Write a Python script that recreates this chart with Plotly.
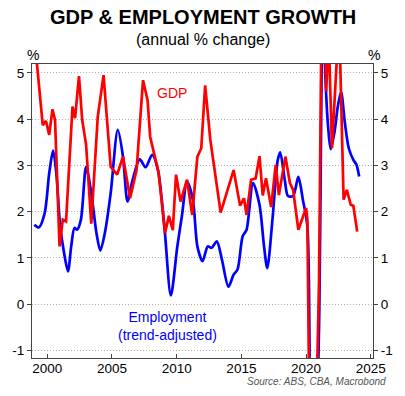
import plotly.graph_objects as go

# ---- Data ----
gdp_years = [1999.1, 1999.65, 1999.9, 2000.15, 2000.4, 2000.6, 2000.95, 2001.2, 2001.45,
             2001.95, 2002.15, 2002.45, 2002.7, 2003.0, 2003.4, 2003.9, 2004.35, 2004.9,
             2005.4, 2005.85, 2006.4, 2006.9, 2007.4, 2007.75, 2007.95, 2008.25, 2008.6,
             2009.1, 2009.4, 2009.7, 2009.95, 2010.3, 2010.8, 2011.2, 2011.6, 2011.9,
             2012.2, 2012.6, 2013.4, 2014.4, 2014.9, 2015.2, 2015.4, 2015.75, 2016.1,
             2016.4, 2016.65, 2016.9, 2017.3, 2017.65, 2017.9, 2018.4, 2018.75, 2019.0,
             2019.4, 2020.0, 2020.1, 2020.4, 2020.7, 2021.0, 2021.3, 2021.55, 2021.75,
             2022.0, 2022.55, 2022.9, 2023.15, 2023.45, 2023.65, 2023.95]
gdp_values = [5.5, 3.87, 3.96, 3.66, 4.21, 3.98, 1.25, 1.83, 1.79,
              4.27, 4.02, 4.93, 3.98, 3.45, 1.74, 4.05, 4.95, 2.97,
              2.80, 3.19, 2.29, 2.90, 4.84, 4.41, 3.62, 3.26, 2.85,
              1.54, 1.91, 1.60, 2.80, 2.22, 2.69, 1.93, 3.19, 3.37,
              4.73, 3.55, 1.98, 2.90, 2.13, 2.29, 1.93, 2.69, 2.72,
              3.20, 2.35, 2.72, 2.10, 3.01, 2.36, 3.19, 2.62, 2.47,
              1.61, 2.08, 1.83, -6.3, -3.5, 0.5, 9.5, 4.6, 5.8,
              3.37, 6.2, 2.26, 2.47, 2.15, 2.13, 1.57]

emp_years = [1999.0, 1999.35, 1999.8, 2000.15, 2000.45, 2000.7, 2001.0, 2001.3, 2001.6,
             2001.85, 2002.1, 2002.3, 2002.6, 2003.0, 2003.4, 2003.8, 2004.1, 2004.45,
             2004.9, 2005.45, 2005.85, 2006.2, 2006.6, 2007.15, 2007.6, 2008.1, 2008.55,
             2009.05, 2009.55, 2010.05, 2010.4, 2010.8, 2011.25, 2011.6, 2012.0, 2012.4,
             2012.7, 2013.1, 2013.5, 2014.0, 2014.4, 2014.7, 2015.1, 2015.4, 2015.9,
             2016.4, 2016.75, 2017.0, 2017.4, 2017.8, 2018.0, 2018.35, 2018.6, 2019.0,
             2019.4, 2019.75, 2020.1, 2020.4, 2020.75, 2021.0, 2021.3, 2021.5, 2021.7,
             2021.9, 2022.2, 2022.45, 2022.7, 2023.0, 2023.3, 2023.65, 2023.9, 2024.1]
emp_values = [1.72, 1.66, 1.97, 2.83, 3.32, 2.83, 1.68, 1.11, 0.71,
              1.25, 1.65, 1.61, 1.83, 2.97, 2.40, 1.54, 1.16, 1.54,
              2.40, 3.77, 3.19, 2.22, 2.69, 3.13, 2.96, 3.23, 2.90,
              1.68, 0.19, 1.25, 1.90, 2.65, 2.26, 1.25, 0.93, 1.25,
              1.22, 1.36, 0.96, 0.38, 0.64, 0.75, 1.47, 1.61, 2.62,
              2.15, 1.25, 0.78, 1.83, 3.10, 3.28, 2.69, 2.34, 2.34,
              2.75, 2.26, 1.68, -4.2, -3.0, -0.5, 6.5, 4.84, 3.84,
              3.35, 3.73, 4.27, 4.59, 3.91, 3.37, 3.12, 3.01, 2.76]

x_ticks = [2000, 2005, 2010, 2015, 2020, 2025]
x_ticklabels = ["2000", "2005", "2010", "2015", "2020", "2025"]
y_ticks = [-1, 0, 1, 2, 3, 4, 5]
y_ticklabels = ["-1", "0", "1", "2", "3", "4", "5"]

FONT = "Liberation Sans, Arial, sans-serif"
AXC = "#444444"
X_RANGE = [1998.82, 2025.17]
Y_RANGE = [-1.16, 5.19]

fig = go.Figure()
fig.add_trace(go.Scatter(x=emp_years, y=emp_values, mode="lines",
                         line=dict(color="#0000FF", width=2.7, shape="spline", smoothing=0.8),
                         showlegend=False, hoverinfo="skip"))
fig.add_trace(go.Scatter(x=gdp_years, y=gdp_values, mode="lines",
                         line=dict(color="#FF0000", width=2.7),
                         showlegend=False, hoverinfo="skip"))
# invisible trace to drive the right-hand axis
fig.add_trace(go.Scatter(x=[X_RANGE[0]], y=[Y_RANGE[0]], yaxis="y2", mode="markers",
                         marker=dict(opacity=0), showlegend=False, hoverinfo="skip"))

fig.update_layout(
    width=405, height=396,
    margin=dict(l=26, r=28, t=64, b=38),
    paper_bgcolor="white", plot_bgcolor="white",
    font=dict(family=FONT, color="black"),
    xaxis=dict(range=X_RANGE, tickmode="array", tickvals=x_ticks, ticktext=x_ticklabels,
               ticks="inside", ticklen=4, tickcolor=AXC, showgrid=False, zeroline=False,
               showline=True, linecolor=AXC, linewidth=1, mirror=True,
               ticklabelstandoff=-2,
               tickfont=dict(size=13.5, family=FONT, color="black")),
    yaxis=dict(range=Y_RANGE, tickmode="array", tickvals=y_ticks, ticktext=y_ticklabels,
               ticks="outside", ticklen=4, tickcolor=AXC, showgrid=True,
               gridcolor="#b0b0b0", griddash="1px,2px", gridwidth=1, zeroline=False,
               showline=True, linecolor=AXC, linewidth=1, mirror=True,
               tickfont=dict(size=13.5, family=FONT, color="black")),
    yaxis2=dict(range=Y_RANGE, overlaying="y", side="right", tickmode="array",
                tickvals=y_ticks, ticktext=y_ticklabels, ticks="outside", ticklen=4,
                tickcolor=AXC, showgrid=False, zeroline=False, showline=False,
                tickfont=dict(size=13.5, family=FONT, color="black")),
)

annotations = [
    dict(text="<b>GDP & EMPLOYMENT GROWTH</b>", xref="paper", yref="paper",
         x=0.5024, y=1.1607, xanchor="center", yanchor="middle", showarrow=False,
         font=dict(size=20, family=FONT, color="black")),
    dict(text="(annual % change)", xref="paper", yref="paper",
         x=0.5024, y=1.085, xanchor="center", yanchor="middle", showarrow=False,
         font=dict(size=16, family=FONT, color="black")),
    dict(text="%", xref="paper", yref="paper", x=0.003, y=1.0306,
         xanchor="center", yanchor="middle", showarrow=False,
         font=dict(size=14, family=FONT, color="black")),
    dict(text="%", xref="paper", yref="paper", x=1.002, y=1.0306,
         xanchor="center", yanchor="middle", showarrow=False,
         font=dict(size=14, family=FONT, color="black")),
    dict(text="GDP", xref="x", yref="y", x=2009.62, y=4.56,
         xanchor="center", yanchor="middle", showarrow=False,
         font=dict(size=14, family=FONT, color="#FF0000")),
    dict(text="Employment<br>(trend-adjusted)", xref="x", yref="y", x=2009.3, y=-0.47,
         xanchor="center", yanchor="middle", showarrow=False,
         font=dict(size=14, family=FONT, color="#0000FF")),
    dict(text="<i>Source: ABS, CBA, Macrobond</i>", xref="paper", yref="paper",
         x=1.0447, y=-0.0795, xanchor="right", yanchor="middle", showarrow=False,
         font=dict(size=10, family=FONT, color="#555555")),
]
fig.update_layout(annotations=annotations)

fig.write_html("out.html",
               config={"displayModeBar": False, "staticPlot": True},
               post_script="document.body.style.margin='0';document.body.style.overflow='hidden';")
